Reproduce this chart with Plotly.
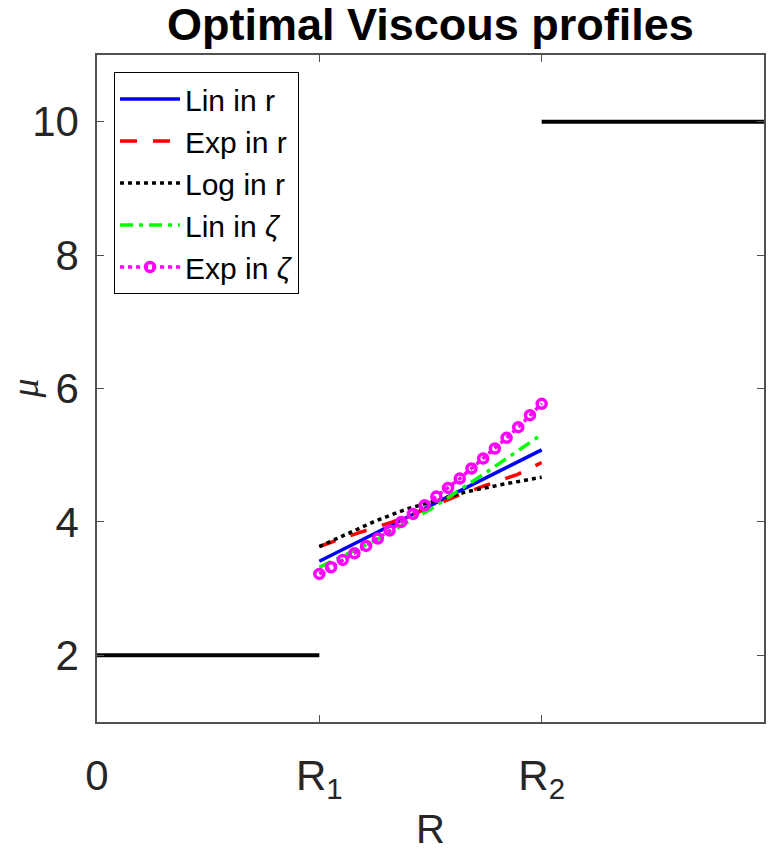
import plotly.graph_objects as go

# ---- data ----
outer_left_x = [0, 1]
outer_left_y = [2, 2]
outer_right_x = [2, 3]
outer_right_y = [10, 10]

lin_r_x = [1.0, 1.25, 1.5, 1.75, 2.0]
lin_r_y = [3.41, 3.83, 4.24, 4.66, 5.08]

exp_r_x = [1.0, 1.04, 1.18, 1.33, 1.47, 1.62, 1.75, 1.89, 2.0]
exp_r_y = [3.63, 3.68, 3.84, 4.00, 4.18, 4.39, 4.55, 4.71, 4.89]

log_r_x = [1.0, 1.12, 1.25, 1.39, 1.5, 1.66, 1.82, 2.0]
log_r_y = [3.63, 3.81, 4.01, 4.19, 4.30, 4.45, 4.56, 4.67]

lin_z_x = [1.0, 1.25, 1.5, 1.75, 2.0]
lin_z_y = [3.32, 3.72, 4.19, 4.74, 5.31]

exp_z_x = [1.0, 1.0526, 1.1053, 1.1579, 1.2105, 1.2632, 1.3158, 1.3684, 1.4211, 1.4737,
           1.5263, 1.5789, 1.6316, 1.6842, 1.7368, 1.7895, 1.8421, 1.8947, 1.9474, 2.0]
exp_z_y = [3.22, 3.32, 3.43, 3.53, 3.64, 3.75, 3.87, 4.00, 4.12, 4.25,
           4.38, 4.51, 4.65, 4.80, 4.95, 5.10, 5.26, 5.42, 5.60, 5.77]

x_tick_vals = [0, 1, 2]
x_tick_text = ["0", "R<sub>1</sub>", "R<sub>2</sub>"]
y_tick_vals = [2, 4, 6, 8, 10]

FONT = "Liberation Sans, Arial, Helvetica, sans-serif"

fig = go.Figure()

fig.add_trace(go.Scatter(x=outer_left_x, y=outer_left_y, mode="lines",
                         line=dict(color="black", width=4), showlegend=False))
fig.add_trace(go.Scatter(x=outer_right_x, y=outer_right_y, mode="lines",
                         line=dict(color="black", width=4), showlegend=False))

fig.add_trace(go.Scatter(x=lin_r_x, y=lin_r_y, mode="lines", name="Lin in r",
                         line=dict(color="#0000FF", width=3.5)))
fig.add_trace(go.Scatter(x=exp_r_x, y=exp_r_y, mode="lines", name="Exp in r",
                         line=dict(color="#FF0000", width=3.5, dash="17px,16px")))
fig.add_trace(go.Scatter(x=log_r_x, y=log_r_y, mode="lines", name="Log in r",
                         line=dict(color="black", width=3.5, dash="4px,4px")))
fig.add_trace(go.Scatter(x=lin_z_x, y=lin_z_y, mode="lines", name="Lin in <i>ζ</i>",
                         line=dict(color="#00FF00", width=3.5, dash="13px,6px,4px,6px")))
fig.add_trace(go.Scatter(x=exp_z_x, y=exp_z_y, mode="lines+markers", name="Exp in <i>ζ</i>",
                         line=dict(color="#FF00FF", width=3.5, dash="4px,4px"),
                         marker=dict(symbol="circle-open", size=9, color="#FF00FF",
                                     line=dict(color="#FF00FF", width=3.5))))

axis_common = dict(showline=True, linecolor="#505050", linewidth=1.5, mirror="allticks",
                   ticks="inside", ticklen=7, tickwidth=1, tickcolor="#505050",
                   showgrid=False, zeroline=False,
                   tickfont=dict(family=FONT, size=42, color="#262626"))

fig.update_xaxes(range=[0, 3], tickmode="array", tickvals=x_tick_vals, ticktext=x_tick_text,
                 ticklabelstandoff=16, **axis_common)
fig.update_yaxes(range=[1, 11], tickmode="array", tickvals=y_tick_vals,
                 ticklabelstandoff=8, **axis_common)

PLOT_W = 769 - 97 - 5
PLOT_H = 853 - 55 - 131

fig.add_annotation(text="R", xref="paper", yref="paper", x=0.5, y=(722 - 829) / PLOT_H,
                   xanchor="center", yanchor="middle", showarrow=False,
                   font=dict(family=FONT, size=40, color="#262626"))
fig.add_annotation(text="<i>μ</i>", xref="paper", yref="paper", x=(24 - 97) / PLOT_W, y=0.5,
                   xanchor="center", yanchor="middle", showarrow=False, textangle=-90,
                   font=dict(family="Liberation Serif, serif", size=38, color="#262626"))

fig.update_layout(
    width=769, height=853,
    margin=dict(l=97, r=5, t=55, b=131, autoexpand=False),
    paper_bgcolor="white", plot_bgcolor="white",
    title=dict(text="<b>Optimal Viscous profiles</b>", x=0.5, xref="paper",
               xanchor="center", y=1 - 24 / 853, yref="container", yanchor="middle",
               font=dict(family=FONT, size=45, color="black")),
    legend=dict(x=(114 - 97) / PLOT_W, y=(722 - 72) / PLOT_H, xanchor="left", yanchor="top",
                bgcolor="white", bordercolor="black", borderwidth=1,
                font=dict(family=FONT, size=30, color="black"),
                itemwidth=60, tracegroupgap=0),
    showlegend=True,
)

fig.write_html("out.html")
